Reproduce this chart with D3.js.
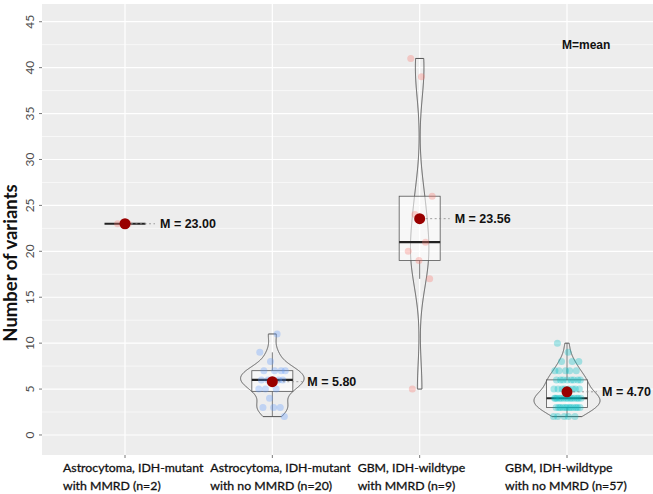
<!DOCTYPE html>
<html><head><meta charset="utf-8">
<script src="https://cdn.jsdelivr.net/npm/d3@7"></script>
<style>body{margin:0;background:#fff} svg{display:block}</style>
</head><body><svg id="chart" width="653" height="494"></svg>
<script>
// ---------- data ----------
const categories = ["A", "B", "C", "D"];
const labelLine1 = ["Astrocytoma, IDH-mutant", "Astrocytoma, IDH-mutant", "GBM, IDH-wildtype", "GBM, IDH-wildtype"];
const labelLine2 = ["with MMRD (n=2)", "with no MMRD (n=20)", "with MMRD (n=9)", "with no MMRD (n=57)"];
const groupAValues = [23, 23];
const groupBValues = [2, 3, 3, 3, 4, 5, 5, 5, 6, 6, 6, 6, 6, 7, 7, 7, 7, 8, 9, 11];
const groupCValues = [5, 17, 19, 20, 21, 24, 26, 39, 41];
const groupDValues = [2, 2, 2, 2, 2,
  3, 3, 3, 3, 3, 3, 3, 3, 3, 3, 3, 3,
  4, 4, 4, 4, 4, 4, 4, 4, 4, 4, 4, 4, 4, 4,
  5, 5, 5, 5, 5, 5, 5, 5,
  6, 6, 6, 6, 6, 6, 6, 6,
  7, 7, 7, 7, 7,
  8, 8, 8,
  9, 10];
const groupColors = ["#F8766D", "#619CFF", "#F8766D", "#00BFC4"];
const yTicks = [0, 5, 10, 15, 20, 25, 30, 35, 40, 45];
const yTitle = "Number of variants";
const legendNote = "M=mean";

const groups = [groupAValues, groupBValues, groupCValues, groupDValues];

// ---------- layout ----------
const svg = d3.select("#chart");
const panel = {left: 42, right: 653, top: 4, bottom: 455};
const x = d3.scalePoint().domain(categories).range([125, 567]);
const y = d3.scaleLinear().domain([-2.18, 46.93]).range([panel.bottom, panel.top]);

svg.append("rect").attr("x", panel.left).attr("y", panel.top)
  .attr("width", panel.right - panel.left).attr("height", panel.bottom - panel.top)
  .attr("fill", "#ededed");

// grid
const minorTicks = yTicks.slice(0, -1).map(t => t + 2.5);
svg.append("g").selectAll("line").data(minorTicks).join("line")
  .attr("x1", panel.left).attr("x2", panel.right)
  .attr("y1", d => y(d)).attr("y2", d => y(d))
  .attr("stroke", "#fff").attr("stroke-width", 0.6);
svg.append("g").selectAll("line").data(yTicks).join("line")
  .attr("x1", panel.left).attr("x2", panel.right)
  .attr("y1", d => y(d)).attr("y2", d => y(d))
  .attr("stroke", "#fff").attr("stroke-width", 1.2);
svg.append("g").selectAll("line").data(categories).join("line")
  .attr("x1", d => x(d)).attr("x2", d => x(d))
  .attr("y1", panel.top).attr("y2", panel.bottom)
  .attr("stroke", "#fff").attr("stroke-width", 1.2);

// y axis
const yAxis = svg.append("g");
yAxis.selectAll("line").data(yTicks).join("line")
  .attr("x1", panel.left - 3).attr("x2", panel.left)
  .attr("y1", d => y(d)).attr("y2", d => y(d))
  .attr("stroke", "#555").attr("stroke-width", 0.8);
yAxis.selectAll("text").data(yTicks).join("text")
  .attr("transform", d => `translate(34,${y(d)}) rotate(-90)`)
  .attr("text-anchor", "middle")
  .attr("font-family", "Lato, 'Open Sans', sans-serif").attr("font-size", 12)
  .attr("fill", "#4d4d4d").text(d => d);
svg.append("text")
  .attr("transform", `translate(17,263) rotate(-90)`)
  .attr("text-anchor", "middle")
  .attr("font-family", "Lato, 'Open Sans', sans-serif").attr("font-weight", "bold")
  .attr("font-size", 18.5).attr("fill", "#111").text(yTitle);

// x axis
const xAxis = svg.append("g");
xAxis.selectAll("line").data(categories).join("line")
  .attr("x1", d => x(d)).attr("x2", d => x(d))
  .attr("y1", panel.bottom).attr("y2", panel.bottom + 3)
  .attr("stroke", "#555").attr("stroke-width", 0.8);
const xl = xAxis.selectAll("text").data(categories).join("text")
  .attr("font-family", "Lato, 'Open Sans', sans-serif").attr("font-size", 12.3)
  .attr("fill", "#111").attr("stroke", "#111").attr("stroke-width", 0.3);
xl.append("tspan").attr("x", d => x(d) - 62).attr("y", 472).text((d, i) => labelLine1[i]);
xl.append("tspan").attr("x", d => x(d) - 62).attr("y", 490).text((d, i) => labelLine2[i]);

// ---------- stats ----------
function nrd0(v) {
  const s = v.slice().sort(d3.ascending);
  const hi = d3.deviation(s) || 0;
  const iqr = d3.quantile(s, 0.75) - d3.quantile(s, 0.25);
  let lo = Math.min(hi, iqr / 1.34);
  if (!lo) lo = hi || Math.abs(s[0]) || 1;
  return 0.9 * lo * Math.pow(s.length, -0.2);
}
function kde(v) {
  const bw = nrd0(v), mn = d3.min(v), mx = d3.max(v), n = 512;
  const pts = [];
  for (let k = 0; k < n; k++) {
    const t = mn + (mx - mn) * k / (n - 1);
    const dens = d3.mean(v, xi => Math.exp(-0.5 * ((t - xi) / bw) ** 2) / (bw * Math.sqrt(2 * Math.PI)));
    pts.push({v: t, d: dens});
  }
  return pts;
}
const stats = groups.map((v, i) => {
  const s = v.slice().sort(d3.ascending);
  const q1 = d3.quantile(s, 0.25), med = d3.quantile(s, 0.5), q3 = d3.quantile(s, 0.75);
  const iqr = q3 - q1;
  const lowW = d3.min(s.filter(d => d >= q1 - 1.5 * iqr));
  const highW = d3.max(s.filter(d => d <= q3 + 1.5 * iqr));
  const hasViolin = d3.max(s) > d3.min(s);
  return {cat: categories[i], values: v, q1, med, q3, lowW, highW, mean: d3.mean(v),
    dens: hasViolin ? kde(v) : null};
});
const maxDens = d3.max(stats, s => s.dens ? d3.max(s.dens, p => p.d) : 0);
const halfW = d3.scaleLinear().domain([0, maxDens]).range([0, 33]);

// violins
const area = d3.area().y(p => y(p.v));
svg.append("g").selectAll("path").data(stats.filter(s => s.dens)).join("path")
  .attr("d", s => area.x0(p => x(s.cat) - halfW(p.d)).x1(p => x(s.cat) + halfW(p.d))(s.dens))
  .attr("fill", "none").attr("stroke", "#555").attr("stroke-width", 1);

// boxes
const boxW = 41;
const bg = svg.append("g").selectAll("g").data(stats).join("g");
bg.append("line").attr("x1", s => x(s.cat)).attr("x2", s => x(s.cat))
  .attr("y1", s => y(s.q3)).attr("y2", s => y(s.highW)).attr("stroke", "#555").attr("stroke-width", 0.8);
bg.append("line").attr("x1", s => x(s.cat)).attr("x2", s => x(s.cat))
  .attr("y1", s => y(s.q1)).attr("y2", s => y(s.lowW)).attr("stroke", "#555").attr("stroke-width", 0.8);
bg.append("rect").attr("x", s => x(s.cat) - boxW / 2).attr("width", boxW)
  .attr("y", s => y(s.q3)).attr("height", s => y(s.q1) - y(s.q3))
  .attr("fill", "rgba(255,255,255,0.55)").attr("stroke", "#555").attr("stroke-width", 0.8);
bg.append("line").attr("x1", s => x(s.cat) - boxW / 2).attr("x2", s => x(s.cat) + boxW / 2)
  .attr("y1", s => y(s.med)).attr("y2", s => y(s.med))
  .attr("stroke", "#222").attr("stroke-width", 2.2);

// jittered points (deterministic jitter)
const pts = [];
stats.forEach((s, gi) => s.values.forEach((v, i) => {
  const j = (((i + 1) * 0.6180339887 + gi * 0.31) % 1 - 0.5) * 28;
  pts.push({cx: x(s.cat) + j, cy: y(v), c: groupColors[gi]});
}));
svg.append("g").selectAll("circle").data(pts).join("circle")
  .attr("cx", d => d.cx).attr("cy", d => d.cy).attr("r", 3.5)
  .attr("fill", d => d.c).attr("fill-opacity", 0.32);

// means
const mg = svg.append("g").selectAll("g").data(stats).join("g");
mg.append("line").attr("x1", s => x(s.cat) + 6).attr("x2", s => x(s.cat) + 30)
  .attr("y1", s => y(s.mean)).attr("y2", s => y(s.mean))
  .attr("stroke", "#888").attr("stroke-width", 0.8).attr("stroke-dasharray", "2,2.5");
mg.append("circle").attr("cx", s => x(s.cat)).attr("cy", s => y(s.mean)).attr("r", 5.5)
  .attr("fill", "#990000");
mg.append("text").attr("x", s => x(s.cat) + 35).attr("y", s => y(s.mean)).attr("dy", "0.35em")
  .attr("font-family", "'Liberation Sans', Arial, sans-serif").attr("font-weight", "bold")
  .attr("font-size", 12.5).attr("fill", "#111")
  .text(s => "M = " + d3.format(".2f")(s.mean));

svg.append("text").attr("x", 562).attr("y", 49)
  .attr("font-family", "'Liberation Sans', Arial, sans-serif").attr("font-weight", "bold")
  .attr("font-size", 12).attr("fill", "#111").text(legendNote);
</script></body></html>
